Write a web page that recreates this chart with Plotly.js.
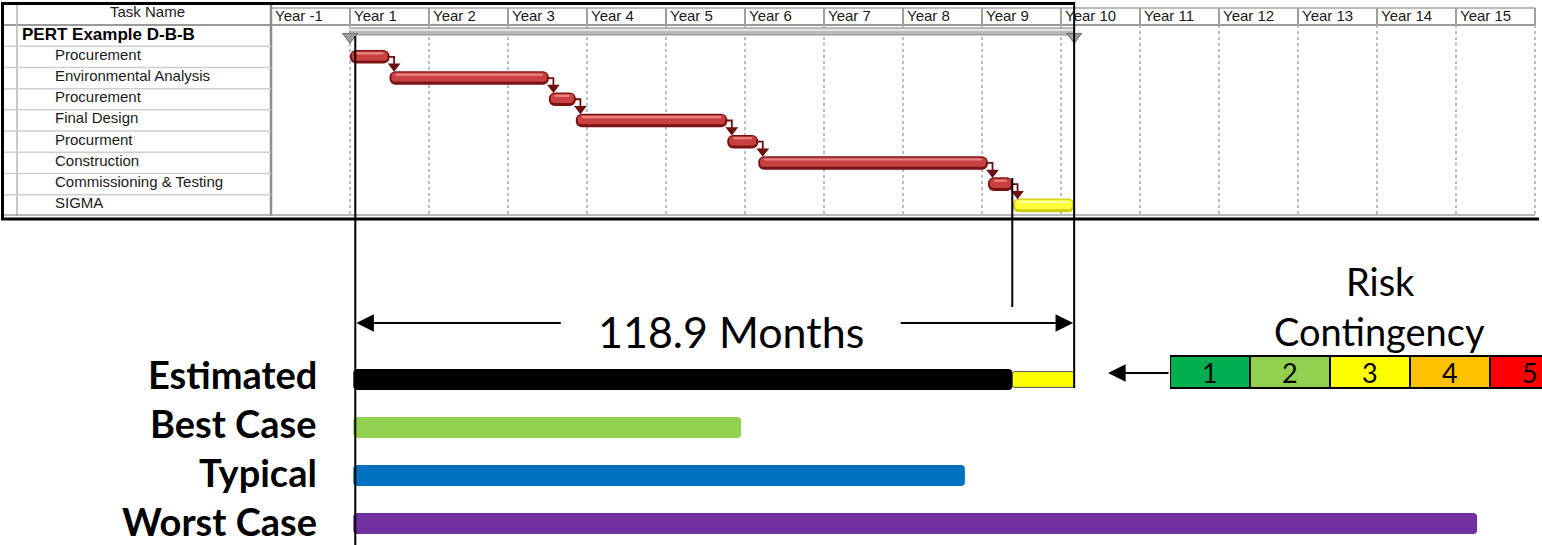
<!DOCTYPE html>
<html>
<head>
<meta charset="utf-8">
<script src="https://cdn.plot.ly/plotly-3.0.1.min.js"></script>
<style>
html,body{margin:0;padding:0;background:#ffffff;overflow:hidden;}
#chart{width:1542px;height:545px;}
</style>
</head>
<body>
<div id="chart"></div>
<script>
// ---------------- data ----------------
const yearLabels = ['Year -1','Year 1','Year 2','Year 3','Year 4','Year 5','Year 6','Year 7','Year 8','Year 9','Year 10','Year 11','Year 12','Year 13','Year 14','Year 15'];
const yearStartMonths = [-12,0,12,24,36,48,60,72,84,96,108,120,132,144,156,168];
const timelineEndMonth = 180;

const headerLabel = 'Task Name';
const summaryName = 'PERT Example D-B-B';
const taskNames = ['Procurement','Environmental Analysis','Procurement','Final Design','Procurment','Construction','Commissioning & Testing','SIGMA'];
const taskStartMonths = [0, 6, 30.2, 34.3, 57.3, 62.0, 96.9, 100.7];
const taskDurationMonths = [6, 24.2, 4.1, 23.0, 4.7, 34.9, 3.8, 9.3];

const scenarioNames = ['Estimated','Best Case','Typical','Worst Case'];
const scenarioStartMonth = 0.5;
const scenarioMonths = [100.1, 58.9, 92.9, 170.7];
const sigmaMonths = 9.4;
const durationLabel = '118.9 Months';

const riskTitle = ['Risk','Contingency'];
const riskLevels = [1,2,3,4,5];

// ---------------- styles ----------------
const riskColors = ['#00b050','#92d050','#ffff00','#ffc000','#ff0000'];
const scenarioColors = ['#000000','#92d050','#0070c0','#7030a0'];
const GANTT_FONT = 'Liberation Sans, Arial, sans-serif';
const BIG_FONT = 'Lato, Carlito, Calibri, sans-serif';

// ---------------- geometry helpers ----------------
const W = 1542, H = 545;
const PX_PER_MONTH = 6.5833, ORIGIN_PX = 350;
const X0 = -ORIGIN_PX / PX_PER_MONTH, X1 = (W - ORIGIN_PX) / PX_PER_MONTH;
const xp = px => px / W;
const yp = px => 1 - px / H;
const mp = m => (m - X0) / (X1 - X0);
const ROW0 = 35.6, ROWH = 21.22;   // gantt rows
const SC0 = 379.5, SCH = 48;       // scenario rows

const taskRows = taskNames.map((_, i) => i + 1);
const scenarioRows = scenarioNames.map((_, i) => i);
const summaryStart = Math.min(...taskStartMonths);
const summaryEnd = Math.max(...taskStartMonths.map((s, i) => s + taskDurationMonths[i]));
const estEnd = scenarioStartMonth + scenarioMonths[0];
const totalEnd = estEnd + sigmaMonths;
const guideX = mp(scenarioStartMonth) + xp(2);   // start guide sits just inside the bars' rounded ends

// a layer of horizontal bars, optionally inset from both ends
function layer(ys, starts, durs, inset, style, yaxis) {
  return Object.assign({type:'bar', orientation:'h', y: ys,
    base: starts.map(s => s + inset),
    x: durs.map(d => Math.max(d - 2 * inset, 0.1)),
    hoverinfo:'skip', xaxis:'x', yaxis: yaxis || 'y'}, style);
}

const isSigma = taskNames.map(n => n === 'SIGMA');
const edgeCol = isSigma.map(s => s ? '#cccc10' : '#7a1212');
const fillCol = isSigma.map(s => s ? '#ffff38' : '#c84040');
const glowCol = isSigma.map(s => s ? '#ffffa8' : '#e88484');

const traces = [];
// summary bar
traces.push({type:'bar', orientation:'h', y:[0], base:[summaryStart], x:[summaryEnd - summaryStart],
  width:0.33, offset:-0.36, marker:{color:'#b9b9b9', line:{color:'#8a8a8a', width:1}, cornerradius:2}, hoverinfo:'skip'});
traces.push({type:'bar', orientation:'h', y:[0], base:[summaryStart], x:[summaryEnd - summaryStart],
  width:0.1, offset:-0.32, marker:{color:'#e2e2e2'}, hoverinfo:'skip'});
traces.push({type:'scatter', mode:'markers', x:[summaryStart, summaryEnd], y:[0.05, 0.05],
  marker:{symbol:'triangle-down', size:13, color:'#9c9c9c', line:{color:'#6a6a6a', width:1}}, hoverinfo:'skip'});

// task bars (edge, body, highlight)
traces.push(layer(taskRows, taskStartMonths, taskDurationMonths, 0, {width:0.64, marker:{color:edgeCol, cornerradius:6}}));
traces.push(layer(taskRows, taskStartMonths, taskDurationMonths, 0.28, {width:0.44, offset:-0.26, marker:{color:fillCol, cornerradius:5}}));
traces.push(layer(taskRows, taskStartMonths, taskDurationMonths, 0.9, {width:0.1, offset:-0.21, marker:{color:glowCol, cornerradius:2}}));

// dependency connectors
const cx = [], cy = [], hx = [], hy = [];
for (let i = 0; i < taskNames.length - 1; i++) {
  const end = taskStartMonths[i] + taskDurationMonths[i];
  const r = taskRows[i];
  cx.push(end - 0.3, end + 0.7, end + 0.7, null);
  cy.push(r, r, r + 0.5, null);
  hx.push(end + 0.7); hy.push(r + 0.45);
}
traces.push({type:'scatter', mode:'lines', x:cx, y:cy, line:{color:'#6e0e0e', width:1.8}, hoverinfo:'skip', connectgaps:false});
traces.push({type:'scatter', mode:'markers', x:hx, y:hy, marker:{symbol:'triangle-down', size:11, color:'#6e0e0e'}, hoverinfo:'skip'});

// scenario bars
traces.push({type:'bar', orientation:'h', y:[scenarioRows[0]], base:[estEnd], x:[sigmaMonths], width:0.33,
  marker:{color:'#ffff00', line:{color:'#555555', width:1}, cornerradius:2}, xaxis:'x', yaxis:'y2', hoverinfo:'skip'});
traces.push(layer(scenarioRows, scenarioRows.map(() => scenarioStartMonth), scenarioMonths, 0,
  {width:0.44, marker:{color:scenarioColors, cornerradius:4}}, 'y2'));

// risk scale
traces.push({type:'bar', x:riskLevels, y:riskLevels.map(() => 1), base:0, width:1,
  marker:{color:riskColors, line:{color:'#000000', width:2}}, xaxis:'x2', yaxis:'y3', hoverinfo:'skip'});

// ---------------- shapes ----------------
const shapes = [];
function ln(o, lay){ shapes.push(Object.assign({type:'line', layer: lay || 'below'}, o)); }
const yTop = (3 - ROW0) / ROWH, yHead = (8 - ROW0) / ROWH, lastRow = taskRows.length + 0.5;
const yearEdges = yearStartMonths.concat([timelineEndMonth]);
// header
ln({xref:'paper', yref:'y', x0:mp(yearStartMonths[0]), x1:mp(timelineEndMonth), y0:yHead, y1:yHead, line:{color:'#a6a6a6', width:1.5}});
ln({xref:'paper', yref:'y', x0:xp(2), x1:mp(timelineEndMonth), y0:-0.5, y1:-0.5, line:{color:'#9a9a9a', width:2}});
yearEdges.forEach(m => ln({xref:'paper', yref:'y', x0:mp(m), x1:mp(m), y0:yHead, y1:-0.5, line:{color:'#a0a0a0', width:2}}));
// body grid
yearEdges.slice(1).forEach(m => ln({xref:'paper', yref:'y', x0:mp(m), x1:mp(m), y0:-0.5, y1:lastRow, line:{color:'#a8a8a8', width:1.5, dash:'dot'}}));
ln({xref:'paper', yref:'y', x0:mp(yearStartMonths[0]), x1:mp(yearStartMonths[0]), y0:yTop, y1:lastRow, line:{color:'#8c8c8c', width:2.5}});
ln({xref:'paper', yref:'y', x0:xp(17), x1:xp(17), y0:yTop, y1:lastRow, line:{color:'#b4b4b4', width:1.5}});
for (let r = 0; r < taskRows.length; r++) {
  ln({xref:'paper', yref:'y', x0:xp(2), x1:mp(yearStartMonths[0]), y0:r + 0.5, y1:r + 0.5, line:{color:'#cfcfcf', width:1.5}});
}
ln({xref:'paper', yref:'y', x0:xp(2), x1:mp(timelineEndMonth), y0:lastRow - 0.05, y1:lastRow - 0.05, line:{color:'#a0a0a0', width:1.5}});
// black frame & guide lines
ln({xref:'paper', yref:'paper', x0:xp(2.5), x1:xp(2.5), y0:yp(2), y1:yp(220), line:{color:'#000', width:3}}, 'above');
ln({xref:'paper', yref:'paper', x0:xp(1), x1:mp(totalEnd), y0:yp(3.5), y1:yp(3.5), line:{color:'#000', width:3}}, 'above');
ln({xref:'paper', yref:'paper', x0:xp(1), x1:xp(1539), y0:yp(219), y1:yp(219), line:{color:'#000', width:3}}, 'above');
ln({xref:'paper', yref:'paper', x0:mp(totalEnd), x1:mp(totalEnd), y0:yp(2), y1:yp(388), line:{color:'#000', width:2}}, 'above');
ln({xref:'paper', yref:'paper', x0:guideX, x1:guideX, y0:yp(36), y1:yp(545), line:{color:'#000', width:2}}, 'above');
ln({xref:'paper', yref:'paper', x0:mp(estEnd), x1:mp(estEnd), y0:yp(178), y1:yp(307), line:{color:'#000', width:2}}, 'above');

// ---------------- annotations ----------------
const annotations = [];
const gf = (size, extra) => Object.assign({family:GANTT_FONT, size:size, color:'#1a1a1a'}, extra || {});
annotations.push({xref:'paper', yref:'y', x:xp(147), y:-1.12, text:headerLabel, xanchor:'center', showarrow:false, font:gf(15)});
yearLabels.forEach((t, i) => annotations.push({xref:'x', yref:'y', x:yearStartMonths[i] + 0.35, y:-0.93, text:t,
  xanchor:'left', showarrow:false, font:gf(15)}));
annotations.push({xref:'paper', yref:'y', x:xp(20), y:-0.06, text:'<b>' + summaryName + '</b>', xanchor:'left', showarrow:false, font:gf(17, {color:'#000'})});
taskNames.forEach((t, i) => annotations.push({xref:'paper', yref:'y', x:xp(53), y:taskRows[i] - 0.12, text:t, xanchor:'left', showarrow:false, font:gf(15)}));

// scenario labels sit on a slightly wider pitch than the bars (kept clear of the bottom edge)
scenarioNames.forEach((t, i) => annotations.push({xref:'paper', yref:'y2', x:xp(319), y:(374 + 49 * i - SC0) / SCH, text:'<b>' + t + '</b>',
  xanchor:'right', showarrow:false, font:{family:BIG_FONT, size:38, color:'#000'}}));
annotations.push({xref:'paper', yref:'y2', x:xp(731), y:(331 - SC0) / SCH, text:durationLabel, xanchor:'center', showarrow:false, font:{family:BIG_FONT, size:43, color:'#000'}});
annotations.push({xref:'paper', yref:'y2', x:xp(1380), y:(280.5 - SC0) / SCH, text:riskTitle[0], xanchor:'center', showarrow:false, font:{family:BIG_FONT, size:38, color:'#000'}});
annotations.push({xref:'paper', yref:'y2', x:xp(1379), y:(330.5 - SC0) / SCH, text:riskTitle[1], xanchor:'center', showarrow:false, font:{family:BIG_FONT, size:38, color:'#000'}});
riskLevels.forEach(v => annotations.push({xref:'x2', yref:'y3', x:v, y:0.5, text:String(v), xanchor:'center', showarrow:false, font:{family:BIG_FONT, size:27, color:'#000'}}));
// arrows
const arrow = {text:'', showarrow:true, arrowhead:2, arrowsize:1.6, arrowwidth:2.2, arrowcolor:'#000', standoff:0, startstandoff:0};
annotations.push(Object.assign({xref:'paper', yref:'paper', x:guideX + xp(1), y:yp(323), ax:206, ay:0}, arrow));
annotations.push(Object.assign({xref:'paper', yref:'paper', x:mp(totalEnd) - xp(1), y:yp(323), ax:-174, ay:0}, arrow));
annotations.push(Object.assign({xref:'paper', yref:'paper', x:xp(1108), y:yp(373), ax:62, ay:0}, arrow));

const layout = {
  width:W, height:H, margin:{l:0, r:0, t:0, b:0, pad:0},
  paper_bgcolor:'#ffffff', plot_bgcolor:'rgba(0,0,0,0)',
  showlegend:false, barmode:'overlay', hovermode:false,
  xaxis:{domain:[0,1], range:[X0, X1], visible:false, fixedrange:true},
  yaxis:{domain:[yp(219), yp(3)], range:[(219 - ROW0) / ROWH, (3 - ROW0) / ROWH], visible:false, fixedrange:true},
  yaxis2:{domain:[0, yp(240)], range:[(545 - SC0) / SCH, (240 - SC0) / SCH], visible:false, anchor:'x', fixedrange:true},
  xaxis2:{domain:[xp(1170), 1], range:[0.5, 0.5 + (W - 1170) / 80], visible:false, anchor:'y3', fixedrange:true},
  yaxis3:{domain:[yp(389.5), yp(354.5)], range:[-1.5/32, 1 + 1.5/32], visible:false, anchor:'x2', fixedrange:true},
  shapes:shapes, annotations:annotations
};

Plotly.newPlot('chart', traces, layout, {staticPlot:true, displayModeBar:false});
</script>
</body>
</html>
